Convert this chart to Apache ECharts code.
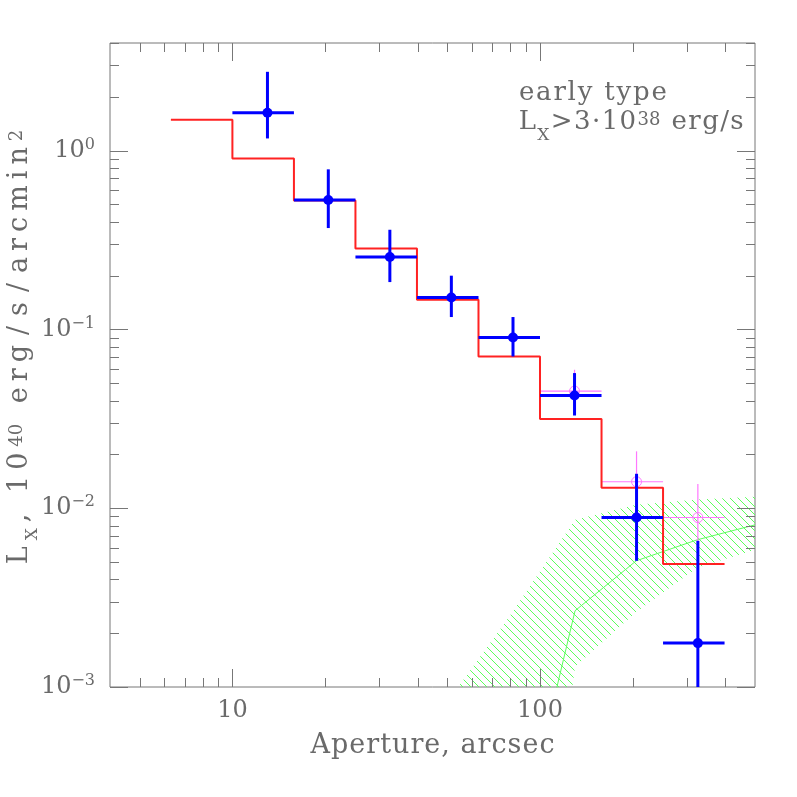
<!DOCTYPE html>
<html>
<head>
<meta charset="utf-8">
<script src="https://cdn.jsdelivr.net/npm/echarts@6/dist/echarts.min.js"></script>
<style>
  html, body { margin: 0; padding: 0; background: #fff; }
  #main { width: 797px; height: 797px; }
</style>
</head>
<body>
<div id="main"></div>
<script>
// bin edges of the aperture annuli (arcsec)
const binEdges = [6.31, 10, 15.85, 25.12, 39.81, 63.1, 100, 158.5, 251.2, 398.1];
// red model histogram, one level per bin
const modelLevels = [1.49, 0.905, 0.527, 0.284, 0.1467, 0.0706, 0.0315, 0.0130, 0.00487];

// blue measured points (bin index starts at binEdges[1])
const blueX = [13, 20.5, 32.5, 51.5, 81.7, 129.5, 206, 326];
const blueY = [1.63, 0.530, 0.254, 0.151, 0.0902, 0.0427, 0.00887, 0.00176];
const blueLo = [1.17, 0.369, 0.184, 0.1173, 0.0706, 0.033, 0.00508, 0.0005];
const blueHi = [2.76, 0.786, 0.361, 0.1998, 0.1173, 0.057, 0.01558, 0.00657];

// magenta open circles (last three bins)
const pinkX = [129.5, 206, 326];
const pinkY = [0.0452, 0.01406, 0.00887];
const pinkLo = [0.036, 0.0095, 0.0058];
const pinkHi = [0.0595, 0.0208, 0.01364];
const pinkBin = [6, 7, 8];

// green background band
const bandX = [50.1, 79.4, 130, 205.5, 324.6, 500];
const bandUpper = [0.00083, 0.00247, 0.00861, 0.01045, 0.0112, 0.0116];
const bandLower = [0.000001, 0.000002, 0.0013, 0.00263, 0.00464, 0.00585];
const bandMid = [0.000001, 0.000075, 0.00267, 0.00508, 0.00666, 0.00807];

// axis ticks
const xMajorTicks = [10, 100];
const xMinorTicks = [5, 6, 7, 8, 9, 20, 30, 40, 50, 60, 70, 80, 90, 200, 300, 400];
const yMajorTicks = [0.001, 0.01, 0.1, 1];
const yMinorTicks = [0.002, 0.003, 0.004, 0.005, 0.006, 0.007, 0.008, 0.009,
  0.02, 0.03, 0.04, 0.05, 0.06, 0.07, 0.08, 0.09,
  0.2, 0.3, 0.4, 0.5, 0.6, 0.7, 0.8, 0.9, 2, 3, 4];

const FONT = 'DejaVu Serif';
const TXT = '#6a6a6a';
const AX = '#777';

const chart = echarts.init(document.getElementById('main'));

// diagonal hatch pattern
const hatch = document.createElement('canvas');
hatch.width = hatch.height = 8;
const hg = hatch.getContext('2d');
hg.fillStyle = '#5cff5c';
for (let i = 0; i < 8; i++) hg.fillRect(i, i, 1, 1);

const stepData = [];
modelLevels.forEach((v, i) => {
  stepData.push([binEdges[i], v], [binEdges[i + 1], v]);
});

const blueData = blueX.map((x, i) => [x, blueY[i], binEdges[i + 1], binEdges[i + 2], blueLo[i], blueHi[i]]);
const pinkData = pinkX.map((x, i) => [x, pinkY[i], binEdges[pinkBin[i]], binEdges[pinkBin[i] + 1], pinkLo[i], pinkHi[i]]);

function errItem(color, width, filled) {
  return (params, api) => {
    const x = api.value(0), y = api.value(1);
    const c = api.coord([x, y]);
    const l = api.coord([api.value(2), y]);
    const r = api.coord([api.value(3), y]);
    const b = api.coord([x, api.value(4)]);
    const t = api.coord([x, api.value(5)]);
    const st = { stroke: color, lineWidth: width };
    return {
      type: 'group',
      children: [
        { type: 'line', shape: { x1: l[0], y1: c[1], x2: r[0], y2: c[1] }, style: st },
        { type: 'line', shape: { x1: c[0], y1: t[1], x2: c[0], y2: b[1] }, style: st },
        { type: 'circle', shape: { cx: c[0], cy: c[1], r: 5 },
          style: filled ? { fill: color } : { fill: 'none', stroke: color, lineWidth: 1 } }
      ]
    };
  };
}

// wrap every character in its own rich token, to spread the text a little
function spaced(str, tok) {
  return str.split('').map(ch => '{' + tok + '|' + ch + '}').join('');
}

function supFmt(v) {
  const e = Math.round(Math.log10(v));
  if (Math.abs(Math.log10(v) - e) > 1e-6) return '';
  return '{b|10}{s|' + String(e).replace('-', '\u2212') + '}';
}

const labelRich = {
  b: { fontFamily: FONT, fontSize: 24, color: TXT, lineHeight: 28 },
  s: { fontFamily: FONT, fontSize: 16, color: TXT, verticalAlign: 'top', lineHeight: 16 }
};
const nameRich = {
  a: { fontFamily: FONT, fontSize: 27, color: TXT, padding: [0, 0.5, 0, 0.5] }
};
function annRich(size, pad) {
  return {
    b: { fontFamily: FONT, fontSize: size, fill: TXT, lineHeight: size + 4, verticalAlign: 'top', padding: [0, pad, 0, pad] },
    sub: { fontFamily: FONT, fontSize: 17, fill: TXT, verticalAlign: 'top', lineHeight: 17, padding: [18, pad, 0, pad] },
    sup: { fontFamily: FONT, fontSize: 18, fill: TXT, verticalAlign: 'top', lineHeight: 18, padding: [2, pad, 0, pad] },
    sl: { fontFamily: FONT, fontSize: size, fill: TXT, lineHeight: size + 4, verticalAlign: 'top', padding: [0, pad + 4, 0, pad + 4] }
  };
}

chart.setOption({
  animation: false,
  backgroundColor: '#fff',
  grid: { left: 110, right: 42, top: 43, bottom: 110, show: true, borderColor: AX, borderWidth: 1 },
  xAxis: {
    type: 'log', logBase: 10, min: 4, max: 500,
    axisLine: { show: false }, axisTick: { show: false }, splitLine: { show: false },
    axisLabel: {
      margin: 12, color: TXT, fontFamily: FONT, fontSize: 24,
      formatter: v => (xMajorTicks.indexOf(Math.round(v)) >= 0 && Math.abs(v - Math.round(v)) < 1e-6 ? String(Math.round(v)) : '')
    },
    name: spaced('Aperture, arcsec', 'a'), nameLocation: 'middle', nameGap: 45,
    nameTextStyle: { rich: nameRich }
  },
  yAxis: {
    type: 'log', logBase: 10, min: 0.001, max: 4,
    axisLine: { show: false }, axisTick: { show: false }, splitLine: { show: false },
    axisLabel: { margin: 15, formatter: supFmt, rich: labelRich }
  },
  graphic: [
    { type: 'text', x: 22, y: 347, rotation: Math.PI / 2,
      style: {
        text: '{b|L}{sub|X}' + spaced(', 10', 'b') + '{sup|40}' + spaced(' erg', 'b') + '{sl|/}{b|s}{sl|/}' +
          spaced('arcmin', 'b') + '{sup|2}',
        rich: annRich(27, 3), align: 'center', verticalAlign: 'middle' } },
    { type: 'text', x: 518, y: 95,
      style: { text: spaced('early type', 'b'), rich: annRich(26, 0.9), align: 'left', verticalAlign: 'middle' } },
    { type: 'text', x: 518, y: 124,
      style: { text: '{b|L}{sub|X}' + spaced('>3\u00b710', 'b') + '{sup|38}' + spaced(' erg/s', 'b'),
        rich: annRich(26, 0.7), align: 'left', verticalAlign: 'middle' } }
  ],
  series: [
    {
      type: 'custom', name: 'band', clip: true, z: 1,
      data: [[bandX[0], bandUpper[0]]],
      renderItem: (params, api) => {
        const pts = [];
        bandX.forEach((x, i) => pts.push(api.coord([x, bandUpper[i]])));
        for (let i = bandX.length - 1; i >= 0; i--) pts.push(api.coord([bandX[i], bandLower[i]]));
        return { type: 'polygon', shape: { points: pts }, style: { fill: { image: hatch, repeat: 'repeat' } } };
      }
    },
    {
      type: 'line', name: 'mid', z: 2, symbol: 'none',
      data: bandX.map((x, i) => [x, bandMid[i]]),
      lineStyle: { color: '#5cff5c', width: 1 }
    },
    {
      type: 'custom', name: 'ticks', z: 3, clip: false,
      data: [[10, 0.01]],
      renderItem: (params, api) => {
        const cs = params.coordSys;
        const top = cs.y, bot = cs.y + cs.height, left = cs.x, right = cs.x + cs.width;
        const kids = [];
        const st = { stroke: AX, lineWidth: 1 };
        const xt = (v, len) => {
          const px = Math.round(api.coord([v, 0.01])[0]) + 0.5;
          kids.push({ type: 'line', shape: { x1: px, y1: bot, x2: px, y2: bot - len }, style: st });
          kids.push({ type: 'line', shape: { x1: px, y1: top, x2: px, y2: top + len }, style: st });
        };
        const yt = (v, len) => {
          const py = Math.round(api.coord([10, v])[1]) + 0.5;
          kids.push({ type: 'line', shape: { x1: left, y1: py, x2: left + len, y2: py }, style: st });
          kids.push({ type: 'line', shape: { x1: right, y1: py, x2: right - len, y2: py }, style: st });
        };
        xMajorTicks.forEach(v => xt(v, 18));
        xMinorTicks.forEach(v => xt(v, 9));
        yMajorTicks.forEach(v => yt(v, 18));
        yMinorTicks.forEach(v => yt(v, 9));
        return { type: 'group', children: kids };
      }
    },
    {
      type: 'custom', name: 'pink', z: 4, clip: true,
      data: pinkData,
      renderItem: errItem('#ff77ff', 1.2, false)
    },
    {
      type: 'line', name: 'model', z: 5, symbol: 'none',
      data: stepData,
      lineStyle: { color: '#ff2222', width: 2 }
    },
    {
      type: 'custom', name: 'blue', z: 6, clip: true,
      data: blueData,
      renderItem: errItem('#0000ff', 3, true)
    }
  ]
});
</script>
</body>
</html>
